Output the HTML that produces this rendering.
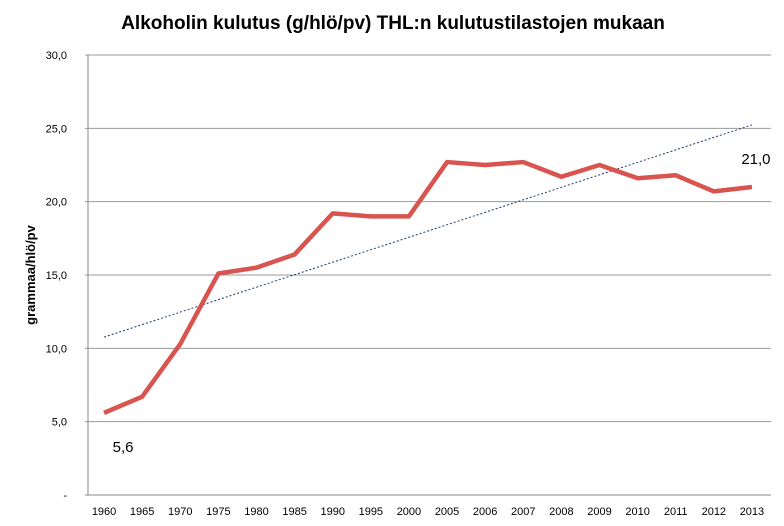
<!DOCTYPE html>
<html><head><meta charset="utf-8"><style>
body{margin:0;background:#fff;}
svg{display:block;font-family:"Liberation Sans",sans-serif;}
</style></head><body>
<svg id="chart" width="784" height="526">
<text x="393" y="29" text-anchor="middle" font-size="19" font-weight="bold" fill="#000">Alkoholin kulutus (g/hlö/pv) THL:n kulutustilastojen mukaan</text>
<text transform="translate(35,275) rotate(-90)" text-anchor="middle" font-size="13" font-weight="bold">grammaa/hlö/pv</text>
<g id="grid"></g><g id="marks"></g>
</svg>
<script>
const categories=["1960","1965","1970","1975","1980","1985","1990","1995","2000","2005","2006","2007","2008","2009","2010","2011","2012","2013"];
const values=[5.6,6.7,10.3,15.1,15.5,16.4,19.2,19.0,19.0,22.7,22.5,22.7,21.7,22.5,21.6,21.8,20.7,21.0];
const yTicks=[0,5,10,15,20,25,30];
const yTickLabels=["-","5,0","10,0","15,0","20,0","25,0","30,0"];
const NS="http://www.w3.org/2000/svg";
const L=85,R=771,T=55,B=495,YMAX=30;
const bw=(R-L)/categories.length;
const x=i=>L+bw*(i+0.5);
const y=v=>B-(v/YMAX)*(B-T);
const grid=document.getElementById('grid'),marks=document.getElementById('marks');
function mk(tag,attrs,parent){const e=document.createElementNS(NS,tag);for(const k in attrs)e.setAttribute(k,attrs[k]);parent.appendChild(e);return e;}
yTicks.forEach((t,i)=>{
  const ln=mk('line',{x1:L,x2:R,y1:y(t),y2:y(t),stroke:t===0?'#888':'#999','stroke-width':1},grid);
  
  
  const tx=mk('text',{x:67,y:y(t)+4,'text-anchor':'end','font-size':11},grid);
  tx.textContent=yTickLabels[i];
  
  
});
const ax=mk('line',{x1:L+3,x2:L+3,y1:T,y2:B,stroke:'#888'},grid);


categories.forEach((c,i)=>{
  const tx=mk('text',{x:x(i),y:515,'text-anchor':'middle','font-size':11},grid);
  tx.textContent=c;
  
  
});
// linear trend
const n=values.length;let sx=0,sy=0,sxy=0,sxx=0;
values.forEach((v,i)=>{sx+=i;sy+=v;sxy+=i*v;sxx+=i*i;});
const slope=(n*sxy-sx*sy)/(n*sxx-sx*sx),icpt=(sy-slope*sx)/n;
const tr=mk('line',{x1:x(0),y1:y(icpt),x2:x(n-1),y2:y(icpt+slope*(n-1)),stroke:'#1f3b6e','stroke-width':1,'stroke-dasharray':'2,2'},marks);


const pl=mk('polyline',{points:values.map((v,i)=>x(i)+','+y(v)).join(' '),fill:'none',stroke:'#d9534f','stroke-width':4.5,'stroke-linejoin':'round'},marks);


const f=v=>v.toFixed(1).replace('.',',');
const l1=mk('text',{x:x(0)+19,y:y(values[0])+39,'text-anchor':'middle','font-size':15},marks);
l1.textContent=f(values[0]);


const l2=mk('text',{x:x(n-1)+4,y:y(values[n-1])-23,'text-anchor':'middle','font-size':15},marks);
l2.textContent=f(values[n-1]);


</script>
</body></html>
